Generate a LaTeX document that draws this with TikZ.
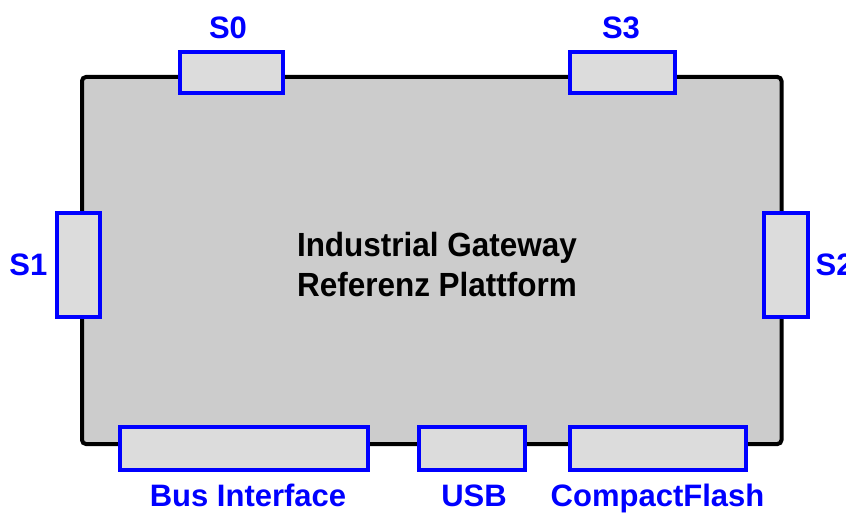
\documentclass[tikz,border=0pt]{standalone}
\usepackage{fontspec}
\setmainfont{Liberation Sans}
\newfontfamily\titlefont[FakeStretch=0.94]{Liberation Sans}
\definecolor{mainfill}{HTML}{CCCCCC}
\definecolor{portfill}{HTML}{DCDCDC}
\definecolor{portblue}{HTML}{0000FF}
\tikzset{
  board/.style={draw=black, line width=4pt, fill=mainfill, rounded corners=4pt},
  port/.style={draw=portblue, line width=3.5pt, fill=portfill, rectangle, inner sep=0pt},
  portlabel/.style={text=portblue, font=\fontsize{31}{34}\selectfont\bfseries, inner sep=0pt},
  title/.style={text=black, font=\titlefont\fontsize{33.5}{40}\selectfont\bfseries, align=center, inner sep=0pt}
}
\begin{document}
\begin{tikzpicture}[x=1pt, y=-1pt]
\useasboundingbox (0,0) rectangle (846,516);
\clip (0,0) rectangle (846,516);
\fill[white] (0,0) rectangle (846,516);
% main board
\draw[board] (82,77) rectangle (781.5,444);
\node[title] (title) at (437,264.8) {Industrial Gateway\\Referenz Plattform};
% ports
\node[port, minimum width=103pt, minimum height=41pt] (s0) at (231.5,72.5) {};
\node[port, minimum width=105pt, minimum height=41pt] (s3) at (622.5,72.5) {};
\node[port, minimum width=43pt, minimum height=104pt] (s1) at (78.5,265) {};
\node[port, minimum width=44pt, minimum height=104pt] (s2) at (786,265) {};
\node[port, minimum width=248pt, minimum height=43pt] (bus) at (244,448.5) {};
\node[port, minimum width=106pt, minimum height=43pt] (usb) at (472,448.5) {};
\node[port, minimum width=176pt, minimum height=43pt] (cf) at (658,448.5) {};
% labels
\node[portlabel, anchor=base] (s0l) at (228,39) {S0};
\node[portlabel, anchor=base] (s3l) at (621,39) {S3};
\node[portlabel, anchor=base east] (s1l) at (47.5,275) {S1};
\node[portlabel, anchor=base west] (s2l) at (815.5,275) {S2};
\node[portlabel, anchor=base] (busl) at (248,506) {Bus Interface};
\node[portlabel, anchor=base] (usbl) at (474,506) {USB};
\node[portlabel, anchor=base] (cfl) at (657.5,506) {CompactFlash};
\end{tikzpicture}
\end{document}
